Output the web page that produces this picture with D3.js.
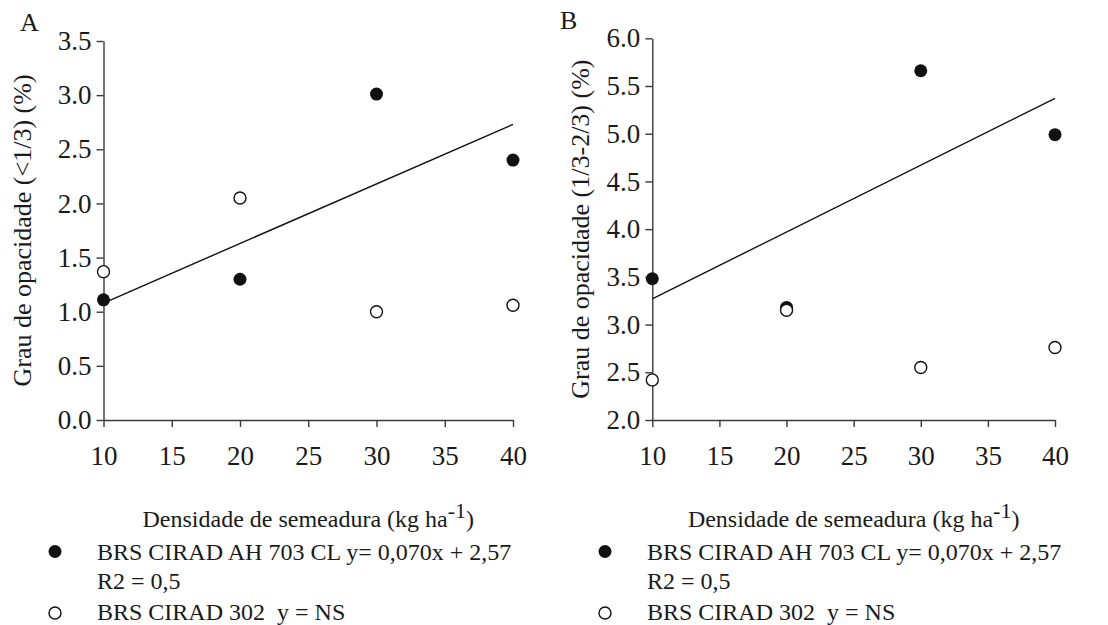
<!DOCTYPE html>
<html>
<head>
<meta charset="utf-8">
<script src="https://cdn.jsdelivr.net/npm/d3@7"></script>
<style>
    body { margin: 0; background: #fff; }
    svg text { font-family: "Liberation Serif", Tinos, "Times New Roman", Times, serif; fill: #1a1a1a; }
</style>
</head>
<body>
<div id="chart"></div>
<script>
// sowing density (kg/ha)
var densities = [10, 20, 30, 40];
var xTicks = [10, 15, 20, 25, 30, 35, 40];

// panel A: opacity < 1/3 (%)
var ahA = [1.11, 1.30, 3.01, 2.40];
var c302A = [1.37, 2.05, 1.00, 1.06];
var trendA = [1.08, 2.73];          // fitted line at x = 10 and x = 40
var yTicksA = [0, 0.5, 1, 1.5, 2, 2.5, 3, 3.5];

// panel B: opacity 1/3 - 2/3 (%)
var ahB = [3.48, 3.18, 5.66, 4.99];
var c302B = [2.42, 3.15, 2.55, 2.76];
var trendB = [3.27, 5.37];
var yTicksB = [2, 2.5, 3, 3.5, 4, 4.5, 5, 5.5, 6];

var legendLabels = ['BRS CIRAD AH 703 CL y= 0,070x + 2,57', 'R2 = 0,5', 'BRS CIRAD 302  y = NS'];

var width = 1108, height = 625;

var svg = d3.select('#chart').append('svg')
    .attr('width', width)
    .attr('height', height);

var panels = [
    { letter: 'A', letterX: 20, letterY: 31, left: 103.5, right: 513, top: 41, bottom: 420,
      yDomain: [0, 3.5], yTicks: yTicksA, ah: ahA, c302: c302A, trend: trendA,
      yTitle: 'Grau de opacidade (<1/3) (%)', yTitleX: 31, legendX: 55 },
    { letter: 'B', letterX: 560, letterY: 29, left: 652.3, right: 1055, top: 38.3, bottom: 420,
      yDomain: [2, 6], yTicks: yTicksB, ah: ahB, c302: c302B, trend: trendB,
      yTitle: 'Grau de opacidade (1/3-2/3) (%)', yTitleX: 589, legendX: 605 }
];

panels.forEach(function(p) {
    var xScale = d3.scaleLinear().domain([10, 40]).range([p.left, p.right]);
    var yScale = d3.scaleLinear().domain(p.yDomain).range([p.bottom, p.top]);

    var g = svg.append('g');

    // axes
    var xAxis = d3.axisBottom(xScale).tickValues(xTicks).tickFormat(d3.format('d'))
        .tickSize(7).tickSizeOuter(0).tickPadding(19);
    var yAxis = d3.axisLeft(yScale).tickValues(p.yTicks).tickFormat(d3.format('.1f'))
        .tickSize(7).tickSizeOuter(0).tickPadding(5);

    var gx = g.append('g').attr('transform', 'translate(0,' + p.bottom + ')').call(xAxis);
    var gy = g.append('g').attr('transform', 'translate(' + p.left + ',0)').call(yAxis);

    [gx, gy].forEach(function(a) {
        a.attr('font-family', null);
        a.select('.domain').attr('stroke', '#3a3a3a').attr('stroke-width', 1.4);
        a.selectAll('.tick line').attr('stroke', '#3a3a3a').attr('stroke-width', 1.4);
        a.selectAll('.tick text')
            .attr('font-size', 27)
            .attr('fill', '#1a1a1a');
    });

    // titles
    g.append('text')
        .attr('x', (p.left + p.right) / 2)
        .attr('y', 527)
        .attr('text-anchor', 'middle')
        .attr('font-size', 24)
        .text('Densidade de semeadura (kg ha')
        .append('tspan').attr('dy', -9).attr('font-size', 22).text('-1')
        .select(function() { return this.parentNode; })
        .append('tspan').attr('dy', 9).attr('font-size', 24).text(')');

    g.append('text')
        .attr('transform', 'translate(' + p.yTitleX + ',' + ((p.top + p.bottom) / 2) + ') rotate(-90)')
        .attr('text-anchor', 'middle')
        .attr('font-size', 26)
        .text(p.yTitle);

    g.append('text')
        .attr('x', p.letterX)
        .attr('y', p.letterY)
        .attr('font-size', 26)
        .text(p.letter);

    // regression line
    var line = d3.line().x((d) => xScale(d[0])).y((d) => yScale(d[1]));
    g.append('path')
        .datum([[10, p.trend[0]], [40, p.trend[1]]])
        .attr('d', line)
        .attr('fill', 'none')
        .attr('stroke', '#111')
        .attr('stroke-width', 1.4);

    // markers
    g.selectAll('circle.ah').data(densities).enter().append('circle')
        .attr('class', 'ah')
        .attr('cx', (d) => xScale(d))
        .attr('cy', (d, i) => yScale(p.ah[i]))
        .attr('r', 6.5)
        .attr('fill', '#111');

    g.selectAll('circle.c302').data(densities).enter().append('circle')
        .attr('class', 'c302')
        .attr('cx', (d) => xScale(d))
        .attr('cy', (d, i) => yScale(p.c302[i]))
        .attr('r', 6)
        .attr('fill', '#fff')
        .attr('stroke', '#111')
        .attr('stroke-width', 1.4);

    // legend
    g.append('circle').attr('cx', p.legendX).attr('cy', 551.5).attr('r', 6.5).attr('fill', '#111');
    g.append('circle').attr('cx', p.legendX).attr('cy', 613).attr('r', 6)
        .attr('fill', '#fff').attr('stroke', '#111').attr('stroke-width', 1.4);

    var legendY = [560, 589, 620];
    legendLabels.forEach(function(t, i) {
        g.append('text')
            .attr('x', p.legendX + 42)
            .attr('y', legendY[i])
            .attr('font-size', 24)
            .style('white-space', 'pre')
            .text(t);
    });
});
</script>
</body>
</html>
